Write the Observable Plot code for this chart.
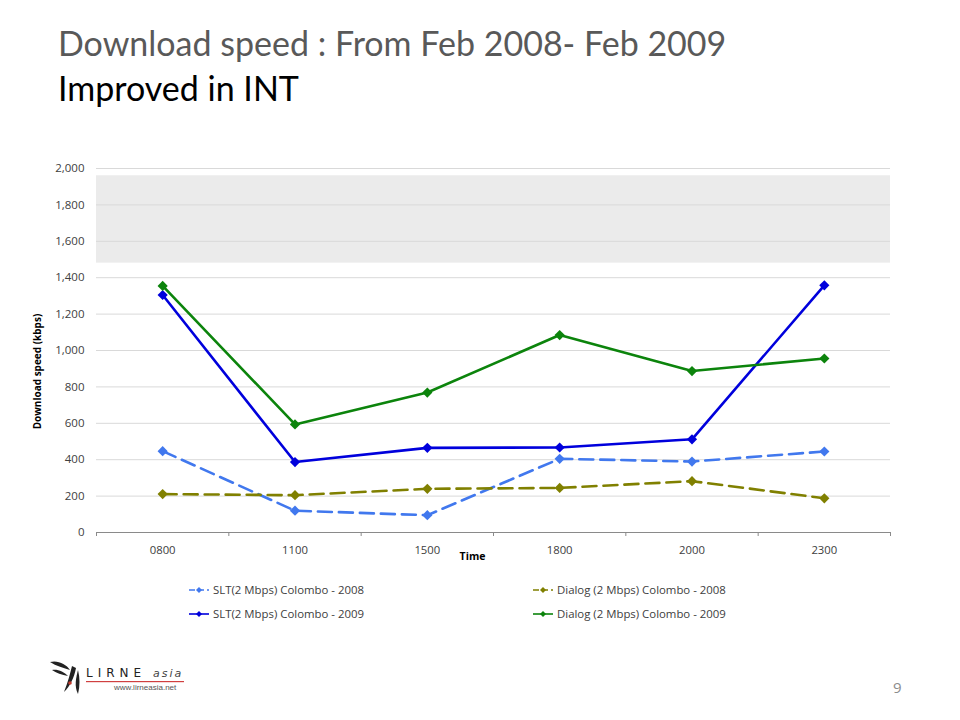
<!DOCTYPE html>
<html>
<head>
<meta charset="utf-8">
<script src="https://cdn.jsdelivr.net/npm/d3@7"></script>
<script src="https://cdn.jsdelivr.net/npm/@observablehq/plot@0.6"></script>
<style>
  html, body { margin: 0; padding: 0; background: #fff; }
  body { width: 960px; height: 720px; position: relative; overflow: hidden; font-family: Lato, "Open Sans", sans-serif; }
  .t1 { position: absolute; left: 58px; top: 22px; font-size: 34px; color: #595959; white-space: nowrap; }
  .t2 { position: absolute; left: 58px; top: 67px; font-size: 34px; color: #000; white-space: nowrap; }
  #chart { position: absolute; left: 0; top: 150px; }
  .leg { position: absolute; font-family: "Open Sans", sans-serif; font-size: 11.4px; color: #404040; display: flex; align-items: center; white-space: nowrap; }
  .leg svg { margin-right: 3px; }
  .pg { position: absolute; left: 893px; top: 677px; font-size: 15px; color: #8c8c8c; font-family: "Open Sans", sans-serif; }
  .logo { position: absolute; left: 48px; top: 656px; width: 140px; height: 42px; }
</style>
</head>
<body>
<div class="t1" id="t1"></div>
<div class="t2" id="t2"></div>
<div id="chart"></div>
<div id="legend"></div>
<div class="pg">9</div>
<svg class="logo" viewBox="0 0 140 42">
  <path d="M2 6 C10 4 18 8 22 14 C16 12 8 10 2 6Z" fill="#222"/>
  <path d="M4 14 C10 13 16 16 20 20 C14 19 8 17 4 14Z" fill="#222"/>
  <path d="M24 10 C22 18 20 26 16 36 C22 30 26 22 28 12Z" fill="#222"/>
  <path d="M30 14 C28 22 26 30 30 38 C32 30 32 22 30 14Z" fill="#222"/>
  <circle cx="22" cy="27" r="1.8" fill="#c0392b"/>
  <text x="38" y="21" font-family="DejaVu Sans, sans-serif" font-size="12" fill="#222" letter-spacing="5">LIRNE</text>
  <text x="105" y="21" font-family="DejaVu Sans, sans-serif" font-size="11" font-style="italic" fill="#444" letter-spacing="2">asia</text>
  <rect x="38" y="25" width="98" height="1.2" fill="#d04040"/>
  <text x="66" y="34" font-family="Liberation Sans, sans-serif" font-size="8" fill="#555">www.lirneasia.net</text>
</svg>
<script>
// ---- data ----
const titleText = "Download speed : From Feb 2008- Feb 2009";
const subtitleText = "Improved in INT";
const times = ["0800", "1100", "1500", "1800", "2000", "2300"];
const slt2008 = [447, 120, 95, 405, 390, 445];
const dialog2008 = [211, 205, 240, 245, 282, 188];
const slt2009 = [1305, 387, 465, 467, 512, 1358];
const dialog2009 = [1355, 594, 769, 1085, 887, 956];
const seriesNames = [
  "SLT(2 Mbps) Colombo - 2008",
  "Dialog (2 Mbps) Colombo - 2008",
  "SLT(2 Mbps) Colombo - 2009",
  "Dialog (2 Mbps) Colombo - 2009"
];
const yTicks = [0, 200, 400, 600, 800, 1000, 1200, 1400, 1600, 1800, 2000];
const shadedBand = [1480, 1960];
const yLabel = "Download speed (kbps)";
const xLabel = "Time";

// ---- styles ----
const styles = [
  {color: "#4178ee", dash: "14,7"},
  {color: "#808000", dash: "14,7"},
  {color: "#0000dc", dash: null},
  {color: "#0c840c", dash: null}
];

document.getElementById("t1").textContent = titleText;
document.getElementById("t2").textContent = subtitleText;

const allValues = [slt2008, dialog2008, slt2009, dialog2009];
const rows = allValues.map((vals, s) => vals.map((v, i) => ({i, time: times[i], value: v, series: seriesNames[s]})));
const idx = times.map((t, i) => i);
const boundaries = [-0.5, ...idx.map(i => i + 0.5)];

const marks = [
  Plot.rect([shadedBand], {y1: d => d[0], y2: d => d[1], fill: "#ebebeb"}),
  Plot.ruleY(yTicks.filter(d => d > 0), {stroke: "#d9d9d9", strokeWidth: 1}),
  Plot.ruleY([0], {stroke: "#8a8a8a", strokeWidth: 1.2}),
  Plot.axisX(boundaries, {tickSize: 4, tickFormat: () => "", stroke: "#8a8a8a", label: null}),
  Plot.axisX(idx, {tickSize: 0, tickPadding: 13, tickFormat: i => times[i], fontSize: 11.3, fill: "#404040", label: null, fontFamily: "Open Sans"}),
  Plot.axisY(yTicks, {tickSize: 0, tickPadding: 12, tickFormat: d3.format(","), fontSize: 11.5, fill: "#404040", label: null, fontFamily: "Open Sans"}),
  Plot.text([yLabel], {frameAnchor: "left", textAnchor: "middle", lineAnchor: "middle", rotate: -90, dx: -59, dy: 21, fontWeight: "bold", fontSize: 10, fill: "#000", fontFamily: "Open Sans"}),
  Plot.text([xLabel], {frameAnchor: "bottom", textAnchor: "middle", lineAnchor: "middle", dx: -21, dy: 24, fontWeight: "bold", fontSize: 10.5, fill: "#000", fontFamily: "Open Sans"})
];
rows.forEach((r, s) => {
  marks.push(Plot.line(r, {x: "i", y: "value", stroke: styles[s].color, strokeWidth: 2.6, strokeDasharray: styles[s].dash || undefined}));
});
rows.forEach((r, s) => {
  marks.push(Plot.dot(r, {x: "i", y: "value", symbol: "diamond2", r: 4.6, fill: styles[s].color, stroke: "none"}));
});

const chart = Plot.plot({
  width: 960,
  height: 422,
  marginLeft: 96,
  marginRight: 70,
  marginTop: 18,
  marginBottom: 40,
  x: {type: "linear", domain: [-0.5, times.length - 0.5], axis: null},
  y: {domain: [0, 2000], axis: null},
  style: {fontFamily: "Open Sans, sans-serif", background: "transparent"},
  marks
});
document.getElementById("chart").appendChild(chart);

// ---- legend ----
const legendPos = [
  {left: 188, top: 582}, {left: 532, top: 582},
  {left: 188, top: 606}, {left: 532, top: 606}
];
const legend = document.getElementById("legend");
seriesNames.forEach((name, s) => {
  const div = document.createElement("div");
  div.className = "leg";
  div.style.left = legendPos[s].left + "px";
  div.style.top = legendPos[s].top + "px";
  const st = styles[s];
  const dash = st.dash ? `stroke-dasharray="6,3"` : "";
  div.innerHTML = `<svg width="22" height="12"><line x1="1" y1="6" x2="21" y2="6" stroke="${st.color}" stroke-width="1.6" ${dash}/><path d="M11 3 L14 6 L11 9 L8 6Z" fill="${st.color}"/></svg><span>${name}</span>`;
  legend.appendChild(div);
});
</script>
</body>
</html>
